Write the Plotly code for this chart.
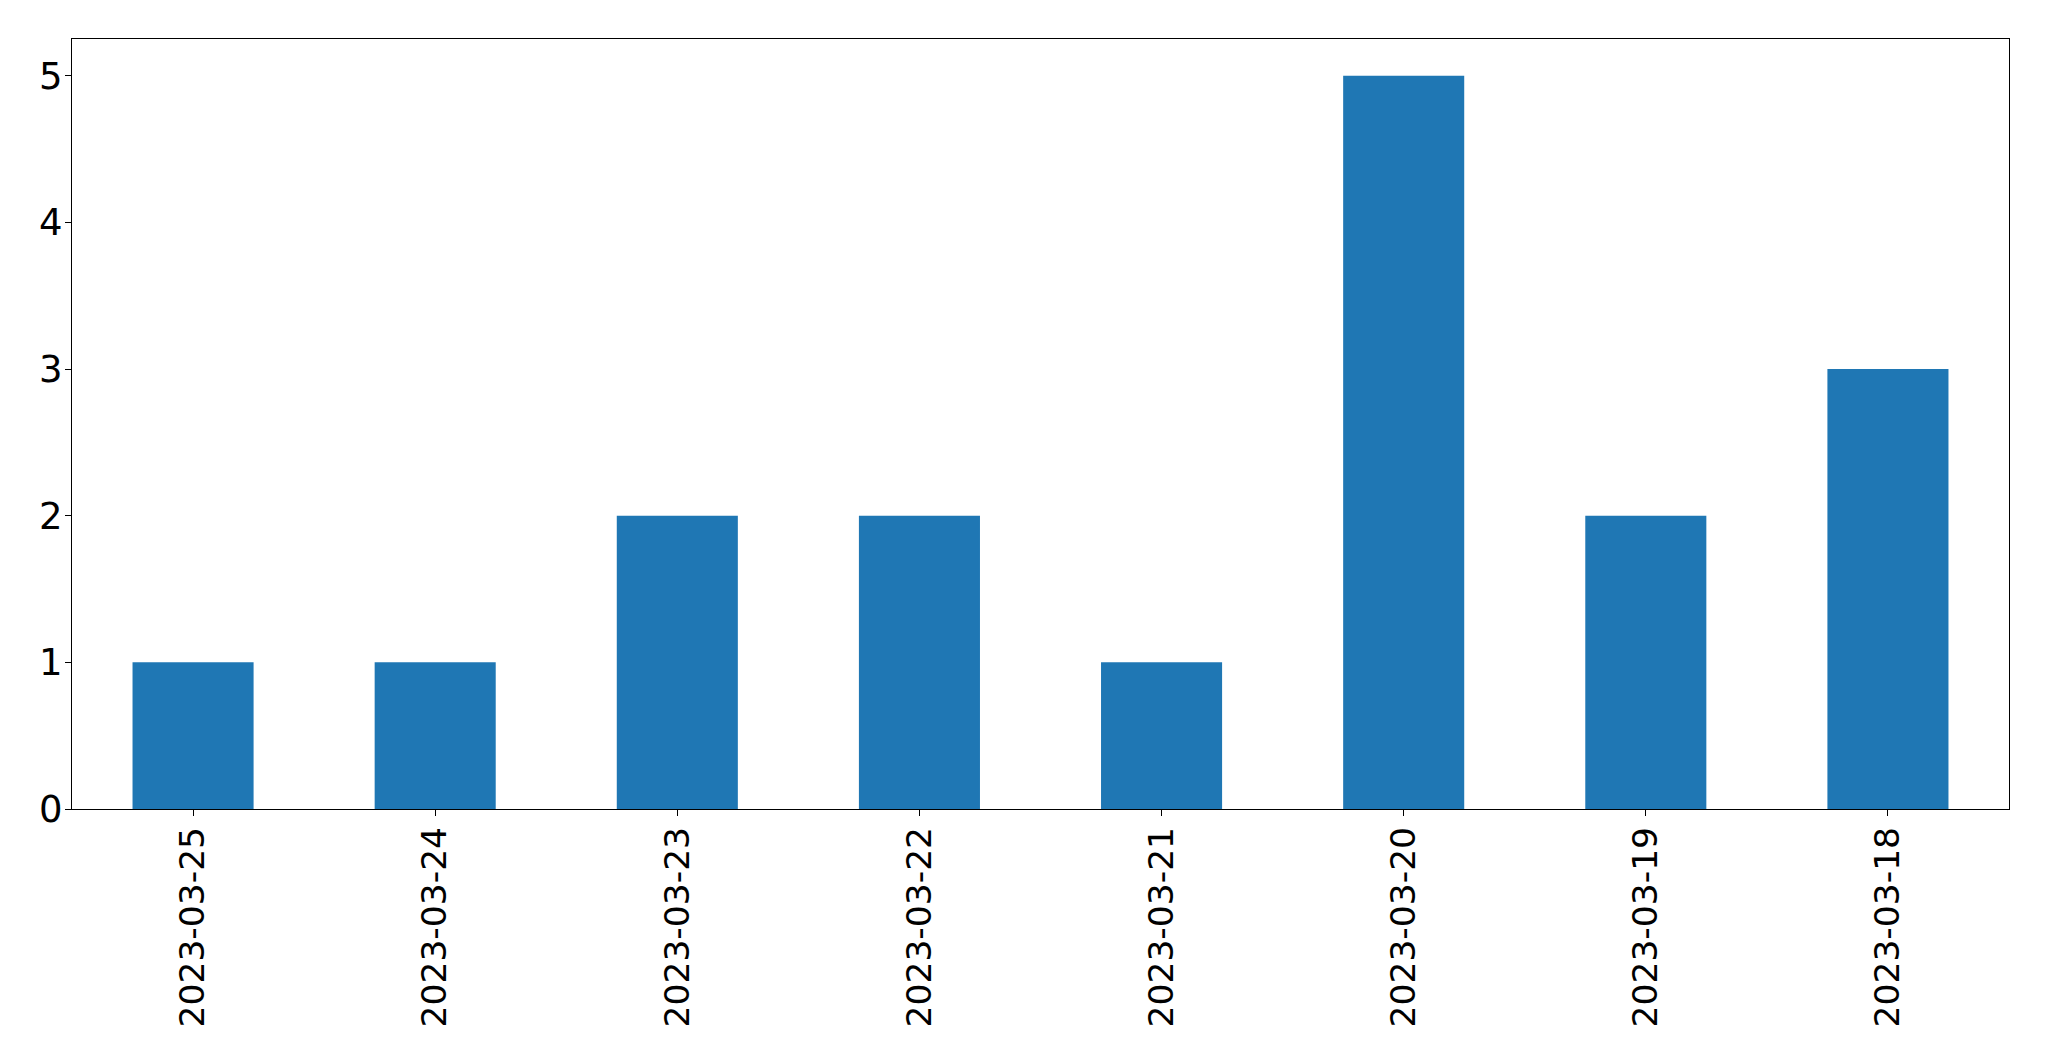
import plotly.graph_objects as go

dates = ["2023-03-25", "2023-03-24", "2023-03-23", "2023-03-22",
         "2023-03-21", "2023-03-20", "2023-03-19", "2023-03-18"]
counts = [1, 1, 2, 2, 1, 5, 2, 3]

fig = go.Figure(go.Bar(x=dates, y=counts, width=0.5, marker_color="#1f77b4",
                       marker_line_width=0))

axis_common = dict(showline=True, linecolor="black", linewidth=1.3, mirror=True,
                   showgrid=False, zeroline=False, ticks="outside", ticklen=6,
                   tickwidth=1.3, tickcolor="black")

fig.update_xaxes(type="category", range=[-0.5, 7.5], tickangle=-90,
                 ticklabelstandoff=-3,
                 tickfont=dict(family="DejaVu Sans", size=34.5, color="black"),
                 **axis_common)
fig.update_yaxes(range=[0, 5.25], tickvals=[0, 1, 2, 3, 4, 5],
                 ticklabelstandoff=-5,
                 tickfont=dict(family="DejaVu Sans", size=37, color="black"),
                 **axis_common)

# page body has an 8px default margin; compensate so the plot area lands on the same pixels
fig.update_layout(width=2033, height=1045, plot_bgcolor="white", paper_bgcolor="white",
                  margin=dict(l=64, r=32, t=31, b=244, autoexpand=False),
                  showlegend=False)

fig.write_html("out.html")
